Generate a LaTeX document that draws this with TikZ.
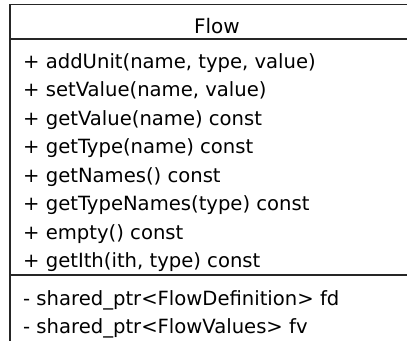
\documentclass[tikz,border=0pt]{standalone}
\usepackage{fontspec}
\setmainfont{DejaVu Sans}
\begin{document}
\begin{tikzpicture}[x=1pt,y=-1pt,
  frame/.style={line width=1.3pt, draw=black!85},
  member/.style={anchor=base west, inner sep=0pt, font=\fontsize{19.6}{23}\selectfont},
  title/.style={anchor=base, inner sep=0pt, font=\fontsize{20}{23}\selectfont}]
\useasboundingbox (0,0) rectangle (407,341);
\coordinate (tl) at (10,4.5);
\coordinate (tr) at (407,4.5);
\coordinate (bl) at (10,341);
\coordinate (s1l) at (10,39);
\coordinate (s1r) at (407,39);
\coordinate (s2l) at (10,275);
\coordinate (s2r) at (407,275);
\draw[frame] (tr) -- (tl) -- (bl);
\draw[frame] (s1l) -- (s1r);
\draw[frame] (s2l) -- (s2r);
\node[title] (name) at (217,33) {Flow};
\node[member] (m1) at (23,68) {+ addUnit(name, type, value)};
\node[member] (m2) at (23,96.5) {+ setValue(name, value)};
\node[member] (m3) at (23,125) {+ getValue(name) const};
\node[member] (m4) at (23,153.5) {+ getType(name) const};
\node[member] (m5) at (23,182) {+ getNames() const};
\node[member] (m6) at (23,210.5) {+ getTypeNames(type) const};
\node[member] (m7) at (23,239) {+ empty() const};
\node[member] (m8) at (23,267.5) {+ getIth(ith, type) const};
\node[member] (a1) at (23,305.5) {- shared\_ptr<FlowDefinition> fd};
\node[member] (a2) at (23,333.5) {- shared\_ptr<FlowValues> fv};
\end{tikzpicture}
\end{document}
